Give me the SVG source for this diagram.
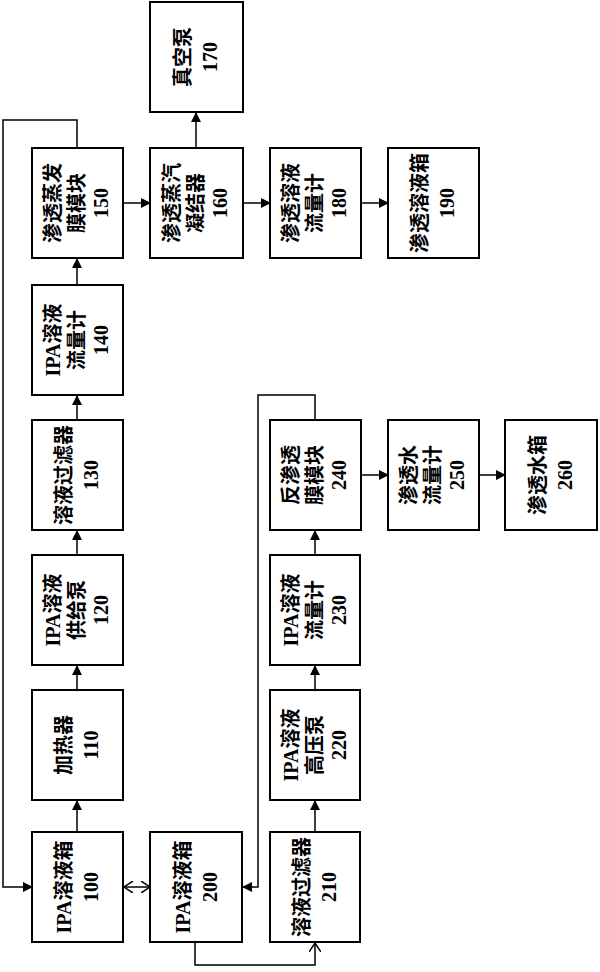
<svg xmlns="http://www.w3.org/2000/svg" width="600" height="972" viewBox="0 0 600 972">
<style>
.b{fill:#fff;stroke:#000;stroke-width:2}
.t{font-family:"Liberation Serif","Noto Sans CJK SC",serif;font-weight:bold;font-size:20px;text-anchor:middle;dominant-baseline:central}
.c{fill:none;stroke:#000;stroke-width:1.5}
</style>
<defs>
<marker id="a" markerWidth="10" markerHeight="10" refX="9" refY="5" orient="auto" markerUnits="userSpaceOnUse"><path d="M0,0 L10,5 L0,10 Z"/></marker>
<marker id="o" markerWidth="10" markerHeight="12" refX="9" refY="6" orient="auto" markerUnits="userSpaceOnUse"><path d="M0,0 L9,6 L0,12" fill="none" stroke="#000" stroke-width="1.5"/></marker>
<marker id="os" markerWidth="10" markerHeight="12" refX="1" refY="6" orient="auto" markerUnits="userSpaceOnUse"><path d="M10,0 L1,6 L10,12" fill="none" stroke="#000" stroke-width="1.5"/></marker>
</defs>
<rect width="600" height="972" fill="#fff"/>
<g id="connectors">
<path class="c" d="M77,148 V120 H3 V887 H32" marker-end="url(#a)"/>
<path class="c" d="M315,420 V395 H258 V887 H243" marker-end="url(#a)"/>
<path class="c" d="M124,887 H150" marker-start="url(#os)" marker-end="url(#o)"/>
<path class="c" d="M195,942 V965 H315 V943" marker-end="url(#o)"/>
<path class="c" d="M77,832 V801" marker-end="url(#a)"/>
<path class="c" d="M77,690 V666" marker-end="url(#a)"/>
<path class="c" d="M77,555 V531" marker-end="url(#a)"/>
<path class="c" d="M77,420 V396" marker-end="url(#a)"/>
<path class="c" d="M77,285 V259" marker-end="url(#a)"/>
<path class="c" d="M123,203 H150" marker-end="url(#a)"/>
<path class="c" d="M196,148 V113" marker-end="url(#a)"/>
<path class="c" d="M243,203 H270" marker-end="url(#a)"/>
<path class="c" d="M361,203 H388" marker-end="url(#a)"/>
<path class="c" d="M315,832 V801" marker-end="url(#a)"/>
<path class="c" d="M315,690 V666" marker-end="url(#a)"/>
<path class="c" d="M315,555 V531" marker-end="url(#a)"/>
<path class="c" d="M361,475 H388" marker-end="url(#a)"/>
<path class="c" d="M479,475 H505" marker-end="url(#a)"/>
</g>
<g id="n100"><rect class="b" x="32" y="832" width="91" height="110"/><text class="t" transform="translate(77,887) rotate(-90)"><tspan x="0" y="-13">IPA溶液箱</tspan><tspan x="0" y="14">100</tspan></text></g>
<g id="n110"><rect class="b" x="32" y="690" width="91" height="110"/><text class="t" transform="translate(77,745) rotate(-90)"><tspan x="0" y="-13">加热器</tspan><tspan x="0" y="14">110</tspan></text></g>
<g id="n120"><rect class="b" x="32" y="555" width="91" height="110"/><text class="t" transform="translate(77,610) rotate(-90)"><tspan x="0" y="-24">IPA溶液</tspan><tspan x="0" y="0">供给泵</tspan><tspan x="0" y="24">120</tspan></text></g>
<g id="n130"><rect class="b" x="32" y="420" width="91" height="110"/><text class="t" transform="translate(77,475) rotate(-90)"><tspan x="0" y="-13">溶液过滤器</tspan><tspan x="0" y="14">130</tspan></text></g>
<g id="n140"><rect class="b" x="32" y="285" width="91" height="110"/><text class="t" transform="translate(77,340) rotate(-90)"><tspan x="0" y="-24">IPA溶液</tspan><tspan x="0" y="0">流量计</tspan><tspan x="0" y="24">140</tspan></text></g>
<g id="n150"><rect class="b" x="32" y="148" width="91" height="110"/><text class="t" transform="translate(77,203) rotate(-90)"><tspan x="0" y="-24">渗透蒸发</tspan><tspan x="0" y="0">膜模块</tspan><tspan x="0" y="24">150</tspan></text></g>
<g id="n160"><rect class="b" x="150" y="148" width="93" height="110"/><text class="t" transform="translate(196,203) rotate(-90)"><tspan x="0" y="-24">渗透蒸汽</tspan><tspan x="0" y="0">凝结器</tspan><tspan x="0" y="24">160</tspan></text></g>
<g id="n170"><rect class="b" x="150" y="2" width="93" height="110"/><text class="t" transform="translate(196,57) rotate(-90)"><tspan x="0" y="-13">真空泵</tspan><tspan x="0" y="14">170</tspan></text></g>
<g id="n180"><rect class="b" x="270" y="148" width="91" height="110"/><text class="t" transform="translate(315,203) rotate(-90)"><tspan x="0" y="-24">渗透溶液</tspan><tspan x="0" y="0">流量计</tspan><tspan x="0" y="24">180</tspan></text></g>
<g id="n190"><rect class="b" x="388" y="148" width="91" height="110"/><text class="t" transform="translate(433,203) rotate(-90)"><tspan x="0" y="-13">渗透溶液箱</tspan><tspan x="0" y="14">190</tspan></text></g>
<g id="n200"><rect class="b" x="150" y="832" width="92" height="110"/><text class="t" transform="translate(196,887) rotate(-90)"><tspan x="0" y="-13">IPA溶液箱</tspan><tspan x="0" y="14">200</tspan></text></g>
<g id="n210"><rect class="b" x="270" y="832" width="90" height="110"/><text class="t" transform="translate(315,887) rotate(-90)"><tspan x="0" y="-13">溶液过滤器</tspan><tspan x="0" y="14">210</tspan></text></g>
<g id="n220"><rect class="b" x="270" y="690" width="90" height="110"/><text class="t" transform="translate(315,745) rotate(-90)"><tspan x="0" y="-24">IPA溶液</tspan><tspan x="0" y="0">高压泵</tspan><tspan x="0" y="24">220</tspan></text></g>
<g id="n230"><rect class="b" x="270" y="555" width="90" height="110"/><text class="t" transform="translate(315,610) rotate(-90)"><tspan x="0" y="-24">IPA溶液</tspan><tspan x="0" y="0">流量计</tspan><tspan x="0" y="24">230</tspan></text></g>
<g id="n240"><rect class="b" x="270" y="420" width="91" height="110"/><text class="t" transform="translate(315,475) rotate(-90)"><tspan x="0" y="-24">反渗透</tspan><tspan x="0" y="0">膜模块</tspan><tspan x="0" y="24">240</tspan></text></g>
<g id="n250"><rect class="b" x="388" y="420" width="91" height="110"/><text class="t" transform="translate(433,475) rotate(-90)"><tspan x="0" y="-24">渗透水</tspan><tspan x="0" y="0">流量计</tspan><tspan x="0" y="24">250</tspan></text></g>
<g id="n260"><rect class="b" x="505" y="420" width="92" height="110"/><text class="t" transform="translate(551,475) rotate(-90)"><tspan x="0" y="-13">渗透水箱</tspan><tspan x="0" y="14">260</tspan></text></g>
</svg>
